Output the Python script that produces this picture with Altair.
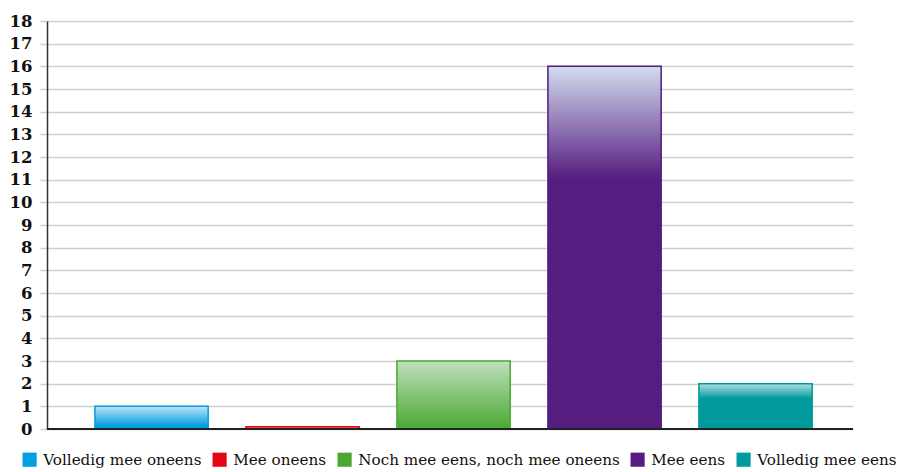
import altair as alt
import pandas as pd

categories = ["Volledig mee oneens", "Mee oneens", "Noch mee eens, noch mee oneens", "Mee eens", "Volledig mee eens"]
values = [1, 0.1, 3, 16, 2]
colors = ["#009fe3", "#e30613", "#4aa832", "#561d80", "#00999c"]
top_colors = ["#bfe4f6", "#f6b9bb", "#bfe0bd", "#d2ddee", "#b2e0e0"]
solid_offsets = [0.85, 1.0, 1.0, 0.31, 0.33]
y_ticks = list(range(0, 19))

df = pd.DataFrame({"cat": categories, "val": values})

FONT = "DejaVu Serif"

x_enc = alt.X("cat:N", sort=categories, axis=None,
              scale=alt.Scale(paddingInner=0.25, paddingOuter=0.294, align=0.54))
y_enc = alt.Y("val:Q", scale=alt.Scale(domain=[0, 18], nice=False),
              axis=alt.Axis(values=y_ticks, title=None, grid=True, gridColor="#cfcfcf",
                            gridWidth=1.5, tickColor="#cfcfcf", tickSize=7, tickWidth=1.5,
                            domainColor="#333333", domainWidth=1.5, labelFont=FONT,
                            labelFontSize=16.5, labelColor="#111111", labelPadding=8,
                            labelFontWeight="bold"))

base = alt.Chart(df).mark_bar().encode(
    x=x_enc, y=y_enc,
    color=alt.Color("cat:N", sort=categories,
                    scale=alt.Scale(domain=categories, range=colors),
                    legend=alt.Legend(title=None, orient="none", direction="horizontal",
                                      legendX=-25, legendY=431, symbolType="square",
                                      symbolSize=200, symbolStrokeWidth=0,
                                      labelFont=FONT, labelFontSize=15.2, labelColor="#111111",
                                      labelOffset=6, columnPadding=10, labelLimit=400)),
)

layers = [base]
for c, col, top, off in zip(categories, colors, top_colors, solid_offsets):
    grad = alt.Gradient(gradient="linear", x1=0, x2=0, y1=0, y2=1,
                        stops=[alt.GradientStop(color=top, offset=0),
                               alt.GradientStop(color=col, offset=off),
                               alt.GradientStop(color=col, offset=1)])
    layers.append(
        alt.Chart(df).transform_filter(alt.datum.cat == c)
        .mark_bar(color=grad, stroke=col, strokeWidth=1.5)
        .encode(x=x_enc, y=y_enc)
    )

xline = alt.Chart(df).mark_rule(color="#222222", strokeWidth=1.5).encode(
    x=alt.value(0), x2=alt.value(806), y=alt.value(408))

chart = alt.layer(*layers, xline).properties(
    width=806, height=408,
    autosize=alt.AutoSizeParams(type="none"),
    padding={"left": 39, "top": 13, "right": 47, "bottom": 40},
).configure_view(stroke=None)

chart.save("out.html", embed_options={"renderer": "svg", "actions": False})
